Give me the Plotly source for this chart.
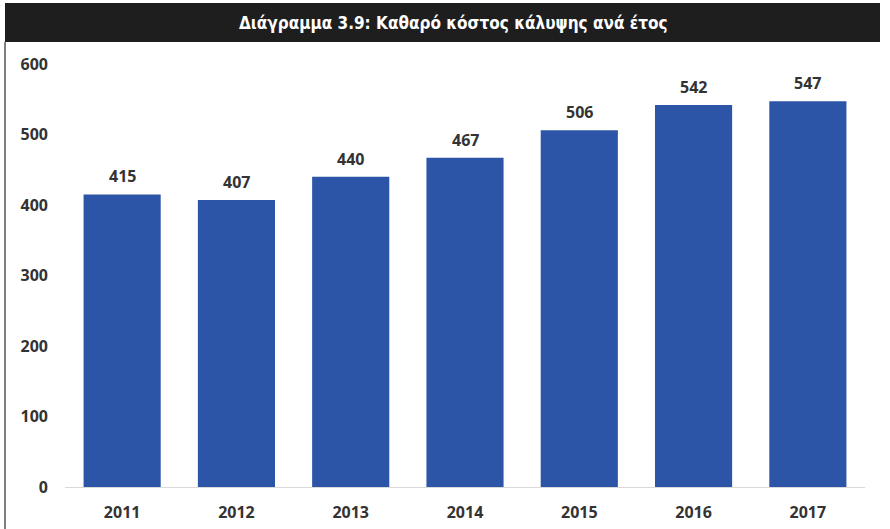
import plotly.graph_objects as go

# Net coverage cost per year
years = ["2011", "2012", "2013", "2014", "2015", "2016", "2017"]
net_cost = [415, 407, 440, 467, 506, 542, 547]
y_ticks = [0, 100, 200, 300, 400, 500, 600]
title_text = "Διάγραμμα 3.9: Καθαρό κόστος κάλυψης ανά έτος"

W, H = 890, 529
L, R, T, B = 65, 25, 64, 42
pw, ph = W - L - R, H - T - B

def px_x(x):
    return (x - L) / pw

def px_y(y):
    return (H - B - y) / ph

label_font = dict(family="Open Sans", size=16, color="#333333", weight="bold")

fig = go.Figure(
    go.Bar(
        x=years,
        y=net_cost,
        marker=dict(color="#2c55a7", line=dict(width=0)),
        hoverinfo="x+y",
    )
)

# value labels sitting above each bar (category index on the x axis)
for i, v in enumerate(net_cost):
    fig.add_annotation(x=i, y=v, text=str(v), showarrow=False,
                       xanchor="center", yanchor="bottom", yshift=5,
                       font=label_font)

fig.update_layout(
    width=W,
    height=H,
    margin=dict(l=L, r=R, t=T, b=B),
    paper_bgcolor="white",
    plot_bgcolor="white",
    bargap=0.325,
    showlegend=False,
    font=dict(family="Open Sans", color="#333333"),
    xaxis=dict(
        type="category",
        range=[-0.5, len(years) - 0.5],
        automargin=False,
        showgrid=False,
        showline=True,
        linecolor="#d9d9d9",
        linewidth=1,
        ticks="",
        tickfont=label_font,
        ticklabelstandoff=11,
    ),
    yaxis=dict(
        range=[0, 600],
        tickvals=y_ticks,
        automargin=False,
        showgrid=False,
        zeroline=False,
        showline=False,
        ticks="",
        tickfont=label_font,
        ticklabelstandoff=16,
    ),
    shapes=[
        # dark title banner
        dict(type="rect", xref="paper", yref="paper",
             x0=px_x(5), x1=px_x(880), y0=px_y(42), y1=px_y(3),
             fillcolor="#1e1e1e", line=dict(width=0), layer="above"),
        # frame edge on the left
        dict(type="line", xref="paper", yref="paper",
             x0=px_x(5), x1=px_x(5), y0=px_y(529), y1=px_y(42),
             line=dict(color="#555555", width=1.5)),
    ],
)

fig.add_annotation(text=title_text, xref="paper", yref="paper",
                   x=px_x(453), y=px_y(23), xanchor="center", yanchor="middle",
                   showarrow=False,
                   font=dict(family="DejaVu Sans Condensed, DejaVu Sans", size=17,
                             color="white", weight="bold"))

fig.write_html("out.html")
